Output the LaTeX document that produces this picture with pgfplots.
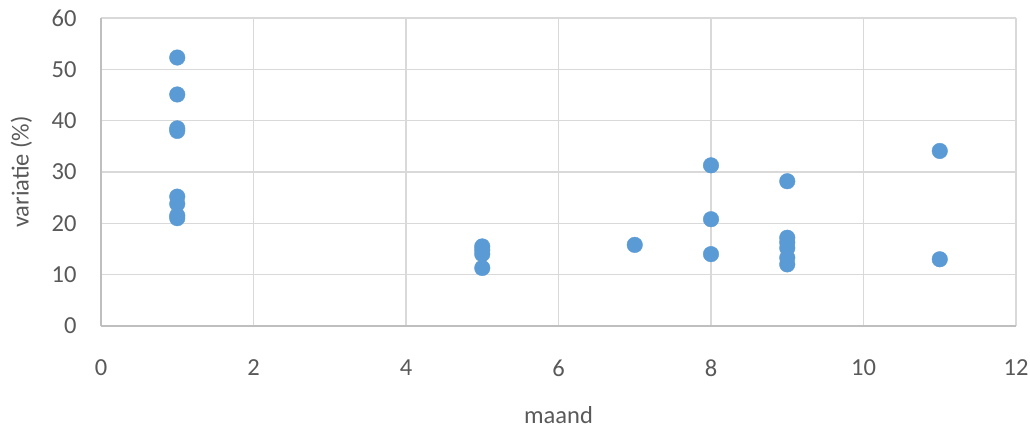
\documentclass[border=0pt]{standalone}
\usepackage{pgfplots}
\pgfplotsset{compat=1.18}
\usepackage{fontspec}
\setmainfont{Carlito}
\definecolor{txt}{HTML}{595959}
\definecolor{gridc}{HTML}{D9D9D9}
\definecolor{axc}{HTML}{BFBFBF}
\definecolor{dot}{HTML}{5B9BD5}
\begin{document}
\fontsize{25}{29}\selectfont
\begin{tikzpicture}
\useasboundingbox (-101pt,-104pt) rectangle (929pt,326pt);
\begin{axis}[
  at={(0,0)}, anchor=south west,
  scale only axis, width=915pt, height=308pt,
  xmin=0, xmax=12, ymin=0, ymax=60,
  xtick={0,2,...,12}, ytick={0,10,...,60},
  grid=major,
  major grid style={gridc, line width=1.6pt},
  axis x line*=bottom, axis y line*=left,
  axis line style={axc, line width=1.6pt, -},
  major tick length=0pt,
  tick label style={text=txt, font=\fontsize{24.5}{29}\selectfont},
  /pgf/number format/assume math mode=true,
  xticklabel style={anchor=north, yshift=-25pt},
  yticklabel style={anchor=east, xshift=-16pt},
  xlabel={maand}, ylabel={variatie (\%)},
  label style={text=txt, font=\fontsize{24.5}{29}\selectfont},
  xlabel style={at={(axis description cs:0.5,-0.289)}, anchor=center},
  ylabel style={at={(axis description cs:-0.087,0.5)}, anchor=center},
  clip=false,
]
\addplot[only marks, mark=*, mark size=7.8pt, mark options={fill=dot, draw=dot}] coordinates {
 (1,52.3) (1,45.1) (1,38.5) (1,38.0) (1,25.2) (1,23.8) (1,21.5) (1,21.0)
 (5,15.5) (5,14.8) (5,14.0) (5,11.3)
 (7,15.8)
 (8,31.3) (8,20.8) (8,14.0)
 (9,28.2) (9,17.2) (9,16.3) (9,15.2) (9,13.3) (9,12.0)
 (11,34.1) (11,13.0)
};
\end{axis}
\end{tikzpicture}
\end{document}
